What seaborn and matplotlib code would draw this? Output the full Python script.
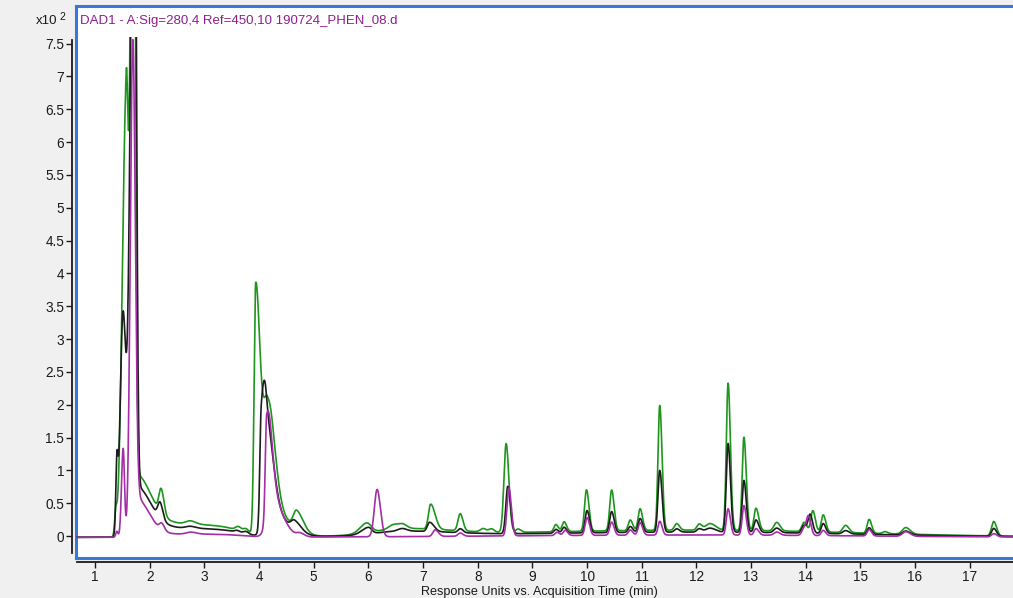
import numpy as np
import pandas as pd
import matplotlib
matplotlib.use("Agg")
import matplotlib.pyplot as plt
import seaborn as sns

# ---- peak tables (retention time [min], height [x10^2], left/right widths [min]) ----
green_rt = [1.38, 1.57, 1.70, 1.76, 1.80, 2.21, 2.74, 3.30, 3.62, 3.76, 3.94, 4.15, 4.25,
            4.69, 5.97, 6.45, 6.62, 6.60, 7.14, 7.68, 8.10, 8.25, 8.52, 8.74, 9.43, 9.58,
            9.99, 10.45, 10.79, 10.97, 11.33, 11.64, 12.05, 12.25, 12.58, 12.87, 13.09,
            13.47, 13.97, 14.13, 14.32, 14.73, 15.16, 15.45, 15.83, 17.44, 12.0]
green_h = [0.30, 6.60, 14.0, 0.70, 0.25, 0.37, 0.05, 0.10, 0.06, 0.06, 3.78, 1.80, 0.35,
           0.28, 0.15, 0.06, 0.07, 0.10, 0.38, 0.26, 0.05, 0.05, 1.35, 0.05, 0.11, 0.15,
           0.63, 0.62, 0.16, 0.33, 1.90, 0.10, 0.09, 0.10, 2.24, 1.42, 0.34,
           0.13, 0.14, 0.32, 0.26, 0.11, 0.21, 0.03, 0.10, 0.22, 0.11]
green_wl = [0.02, 0.07, 0.05, 0.05, 0.05, 0.04, 0.08, 0.50, 0.05, 0.05, 0.03, 0.08, 0.10,
            0.06, 0.12, 0.08, 0.08, 0.50, 0.04, 0.04, 0.05, 0.05, 0.04, 0.04, 0.035, 0.035,
            0.035, 0.035, 0.035, 0.035, 0.032, 0.04, 0.04, 0.08, 0.032, 0.032, 0.035,
            0.05, 0.04, 0.035, 0.035, 0.05, 0.035, 0.04, 0.06, 0.04, 3.5]
green_wr = [0.02, 0.035, 0.035, 0.25, 0.90, 0.05, 0.10, 0.35, 0.05, 0.05, 0.08, 0.13, 0.30,
            0.12, 0.08, 0.08, 0.08, 0.90, 0.08, 0.05, 0.05, 0.05, 0.05, 0.05, 0.045, 0.045,
            0.045, 0.045, 0.045, 0.045, 0.042, 0.05, 0.05, 0.10, 0.042, 0.042, 0.05,
            0.06, 0.05, 0.045, 0.045, 0.06, 0.045, 0.05, 0.08, 0.05, 3.0]

black_rt = [1.40, 1.51, 1.72, 1.76, 1.80, 2.19, 2.74, 3.30, 3.60, 3.76, 4.04, 4.13, 4.25,
            4.65, 6.00, 6.62, 6.60, 7.12, 7.68, 8.55, 9.43, 9.58, 10.00, 10.45, 10.79,
            10.97, 11.33, 11.64, 12.05, 12.25, 12.58, 12.87, 13.09, 13.47, 13.97, 14.08,
            14.32, 14.73, 15.16, 15.83, 17.44, 12.0]
black_h = [1.00, 3.30, 12.0, 0.60, 0.17, 0.24, 0.03, 0.07, 0.03, 0.04, 1.50, 1.40, 0.30,
           0.13, 0.10, 0.04, 0.07, 0.14, 0.06, 0.72, 0.06, 0.09, 0.34, 0.32, 0.09,
           0.21, 0.94, 0.05, 0.05, 0.06, 1.35, 0.79, 0.19, 0.07, 0.12, 0.28,
           0.15, 0.05, 0.10, 0.06, 0.12, 0.08]
black_wl = [0.02, 0.05, 0.07, 0.05, 0.05, 0.04, 0.08, 0.50, 0.05, 0.05, 0.025, 0.06, 0.10,
            0.06, 0.12, 0.08, 0.50, 0.04, 0.04, 0.035, 0.035, 0.035, 0.035, 0.035, 0.035,
            0.035, 0.032, 0.04, 0.04, 0.08, 0.032, 0.032, 0.035, 0.05, 0.04, 0.035,
            0.035, 0.05, 0.035, 0.06, 0.04, 3.5]
black_wr = [0.02, 0.05, 0.035, 0.25, 0.90, 0.05, 0.10, 0.35, 0.05, 0.05, 0.07, 0.13, 0.30,
            0.12, 0.06, 0.08, 0.90, 0.08, 0.05, 0.05, 0.045, 0.045, 0.045, 0.045, 0.045,
            0.045, 0.042, 0.05, 0.05, 0.10, 0.042, 0.042, 0.05, 0.06, 0.05, 0.045,
            0.045, 0.06, 0.045, 0.08, 0.05, 3.0]

magenta_rt = [1.40, 1.515, 1.69, 1.75, 1.80, 2.22, 2.75, 3.30, 4.14, 4.22, 4.75, 6.16,
              7.22, 7.68, 8.57, 9.45, 9.60, 10.00, 10.45, 10.79, 10.97, 11.33, 12.58,
              12.87, 13.09, 13.47, 13.97, 14.05, 14.32, 15.16, 15.83, 17.44, 12.0]
magenta_h = [0.09, 1.35, 7.30, 0.55, 0.05, 0.10, 0.03, 0.03, 1.50, 0.60, 0.05, 0.72,
             0.10, 0.05, 0.73, 0.05, 0.08, 0.27, 0.20, 0.08, 0.19, 0.21, 0.40,
             0.45, 0.10, 0.05, 0.11, 0.27, 0.08, 0.10, 0.07, 0.05, 0.035]
magenta_wl = [0.02, 0.03, 0.045, 0.05, 0.05, 0.04, 0.08, 0.60, 0.025, 0.08, 0.06, 0.05,
              0.04, 0.04, 0.035, 0.035, 0.035, 0.035, 0.035, 0.035, 0.035, 0.032, 0.032,
              0.032, 0.035, 0.05, 0.04, 0.035, 0.035, 0.035, 0.06, 0.04, 3.5]
magenta_wr = [0.02, 0.025, 0.045, 0.23, 0.90, 0.05, 0.10, 0.40, 0.09, 0.20, 0.08, 0.06,
              0.06, 0.05, 0.045, 0.045, 0.045, 0.045, 0.045, 0.045, 0.045, 0.042, 0.042,
              0.042, 0.05, 0.06, 0.05, 0.045, 0.045, 0.045, 0.08, 0.05, 3.0]

baseline_offset = -0.02

x_ticks = list(range(1, 18))
y_ticks = [0, 0.5, 1, 1.5, 2, 2.5, 3, 3.5, 4, 4.5, 5, 5.5, 6, 6.5, 7, 7.5]
title_text = "DAD1 - A:Sig=280,4 Ref=450,10 190724_PHEN_08.d"
x_label = "Response Units vs. Acquisition Time (min)"


def trace(t, rt, h, wl, wr):
    """Sum of asymmetric Gaussian peaks on a flat offset."""
    y = np.full_like(t, baseline_offset)
    for c, a, sl, sr in zip(rt, h, wl, wr):
        s = np.where(t < c, sl, sr)
        y += a * np.exp(-0.5 * ((t - c) / s) ** 2)
    return y


t = np.arange(0.60, 18.2, 0.002)
df = pd.DataFrame({
    "time": t,
    "green": trace(t, green_rt, green_h, green_wl, green_wr),
    "black": trace(t, black_rt, black_h, black_wl, black_wr),
    "magenta": trace(t, magenta_rt, magenta_h, magenta_wl, magenta_wr),
})

sns.set_theme(style="white")
plt.rcParams["font.family"] = ["Liberation Sans", "DejaVu Sans"]

W, H = 1013, 598
fig = plt.figure(figsize=(W / 100, H / 100), dpi=100, facecolor="#f0f0f0")

# outer white panel with the blue border
frame = fig.add_axes([76 / W, 1 - 558 / H, (1040 - 76) / W, (558 - 6) / H])
frame.set_facecolor("white")
frame.set_xticks([])
frame.set_yticks([])
for sp in frame.spines.values():
    sp.set_color("#3a78d6")
    sp.set_linewidth(2.2)
frame.set_zorder(0)

# data axes
ax = fig.add_axes([76 / W, 1 - 558 / H, (1040 - 76) / W, (558 - 37) / H])
ax.set_facecolor("none")
ax.set_zorder(1)

line_colors = {"green": "#1e961e", "black": "#1c1c1c", "magenta": "#a32ea8"}
for name in ["green", "black", "magenta"]:
    sns.lineplot(data=df, x="time", y=name, ax=ax, color=line_colors[name],
                 linewidth=1.2, estimator=None, sort=False)

x_left = 1 + (76 - 95) / 54.67
x_right = 1 + (1040 - 95) / 54.67
ax.set_xlim(x_left, x_right)
ax.set_ylim(-0.335, 7.6)

ax.spines["top"].set_visible(False)
ax.spines["right"].set_visible(False)
for side in ["left", "bottom"]:
    ax.spines[side].set_position(("outward", 3))
    ax.spines[side].set_color("#1a1a1a")
    ax.spines[side].set_linewidth(1.3)
ax.spines["left"].set_bounds(-0.26, 7.55)
ax.spines["bottom"].set_bounds(x_left + 0.02, x_right)

ax.set_xticks(x_ticks)
ax.set_xticklabels([str(v) for v in x_ticks])
ax.set_yticks(y_ticks)
ax.set_yticklabels([f"{v:g}" for v in y_ticks])
ax.tick_params(axis="both", which="major", bottom=True, left=True, direction="out",
               length=4, width=1, color="#1a1a1a", labelsize=9.8, pad=1.5,
               labelcolor="#1a1a1a")
ax.set_ylabel("")
ax.set_xlabel(x_label, fontsize=9.1, color="#1a1a1a")
ax.xaxis.set_label_coords((539 - 76) / (1040 - 76), -0.054)

fig.text(80 / W, 1 - 21 / H, title_text, color="#8e1e8e", fontsize=9.5,
         ha="left", va="center")
fig.text(57 / W, 1 - 21 / H, "x10", color="#1a1a1a", fontsize=9.5, ha="right", va="center")
fig.text(59 / W, 1 - 17 / H, "2", color="#1a1a1a", fontsize=7.5, ha="left", va="center")

fig.savefig("out.png", dpi=100, facecolor=fig.get_facecolor())
